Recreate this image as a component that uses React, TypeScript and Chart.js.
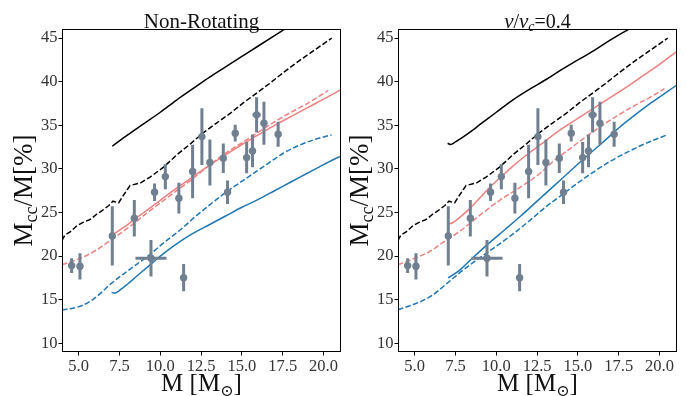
import { useEffect, useRef } from 'react';
import { Chart, registerables } from 'chart.js';

Chart.register(...registerables);

const FONT = '"Liberation Serif", "DejaVu Serif", serif';
const STAR = '#708090';
const RED = '#f08080';
const BLUE = '#1f77b4';

// Axis ticks
const massTicks = [5, 7.5, 10, 12.5, 15, 17.5, 20];
const coreTicks = [10, 15, 20, 25, 30, 35, 40, 45];

// Observed stars: mass, core fraction and their uncertainties
const starMass = [4.57, 5.08, 7.06, 8.41, 9.65, 9.43, 10.31, 11.14, 11.43, 11.98, 12.55, 13.04, 13.86, 14.12, 14.59, 15.29, 15.65, 15.9, 16.35, 17.22];
const starCore = [18.91, 18.83, 22.31, 24.34, 27.33, 19.75, 29.12, 26.64, 17.53, 29.7, 33.71, 30.73, 31.23, 27.33, 34.1, 31.3, 32.07, 36.2, 35.24, 33.98];
const starCoreErr = [0.85, 1.5, 3.4, 2.1, 1.0, 2.1, 1.45, 1.76, 1.56, 3.06, 3.25, 2.64, 1.7, 1.34, 0.96, 1.8, 1.87, 2.03, 2.47, 1.44];
const starMassErr = [0, 0, 0, 0, 0, 0.95, 0, 0, 0, 0, 0, 0, 0, 0, 0, 0, 0, 0.25, 0, 0];

// Black dashed track (same in both panels)
const blackDashMass = [3.98, 4.15, 4.5, 4.9, 5.3, 5.7, 6.1, 6.5, 6.85, 7.1, 7.45, 7.75, 8.15, 8.8, 9.4, 10.2, 11.0, 11.8, 12.6, 13.4, 14.3, 15.1, 15.9, 16.7, 17.5, 18.5, 19.5, 20.5];
const blackDashCore = [21.8, 22.4, 22.8, 23.5, 23.9, 24.2, 24.8, 25.3, 25.8, 26.3, 26.1, 27.0, 28.1, 28.4, 29.1, 30.2, 31.6, 32.8, 34.1, 35.2, 36.4, 37.6, 38.7, 39.8, 41.0, 42.4, 43.7, 45.0];

// Non-rotating models
const nrBlackMass = [7.06, 8, 9, 10, 11, 12, 13, 14, 15, 16, 17, 18, 19, 20.5];
const nrBlackCore = [32.6, 33.9, 35.2, 36.5, 37.9, 39.2, 40.5, 41.7, 42.9, 44.1, 45.3, 46.5, 47.7, 49.5];
const nrRedMass = [7.02, 8, 8.4, 9, 10, 11, 12, 13, 14, 15, 16, 17, 18, 19, 20, 21.07];
const nrRedCore = [22.4, 23.6, 24.2, 25.0, 26.4, 27.8, 29.1, 30.4, 31.6, 32.8, 33.9, 35.0, 36.0, 37.0, 38.0, 39.1];
const nrRedDashMass = [3.98, 5.29, 6, 7.02, 8, 9.37, 11, 12, 13, 14, 15, 16, 17, 18, 19, 20.29];
const nrRedDashCore = [19.0, 19.9, 20.6, 21.9, 23.2, 25.2, 27.5, 28.9, 30.4, 31.8, 33.0, 34.2, 35.4, 36.5, 37.5, 39.0];
const nrBlueMass = [7.02, 7.2, 7.6, 8, 8.5, 9, 9.5, 10, 11, 12, 13, 14, 15, 16, 17, 18, 19, 20, 21.07];
const nrBlueCore = [15.85, 15.75, 16.2, 16.8, 17.6, 18.4, 19.2, 20.0, 21.4, 22.6, 23.6, 24.6, 25.6, 26.5, 27.5, 28.5, 29.5, 30.5, 31.5];
const nrBlueDashMass = [3.98, 4.5, 5.29, 6, 7.02, 8, 9.37, 10, 11.41, 12, 13.45, 14, 15.49, 16.5, 17.53, 18.5, 19.5, 20.49];
const nrBlueDashCore = [13.83, 13.95, 14.4, 15.2, 16.9, 18.3, 20.2, 21.2, 23.3, 24.3, 26.5, 27.3, 29.2, 30.5, 31.8, 32.7, 33.4, 33.9];

// Rotating models (v/vc = 0.4)
const rotBlackMass = [7.02, 7.2, 7.5, 8, 8.6, 9, 10, 11, 12, 13, 14, 15, 16, 17, 18, 19, 20.5];
const rotBlackCore = [32.95, 32.8, 33.1, 33.7, 34.5, 35.1, 36.5, 37.9, 39.1, 40.2, 41.4, 42.5, 43.6, 44.8, 45.9, 47.0, 48.7];
const rotRedMass = [7.02, 7.3, 7.8, 8.4, 9, 9.6, 10.3, 11, 12, 13, 14, 15, 16, 17, 18, 19, 20, 21.07];
const rotRedCore = [23.7, 23.8, 24.5, 25.5, 26.7, 27.9, 29.1, 30.3, 31.8, 33.2, 34.6, 35.8, 37.0, 38.2, 39.4, 40.7, 42.0, 43.5];
const rotRedDashMass = [3.98, 5, 5.9, 6.6, 7.8, 9, 10.25, 11.47, 12.69, 13.5, 14.5, 15.5, 16.5, 17.5, 18.5, 19.5, 20.3];
const rotRedDashCore = [19.0, 19.75, 20.5, 21.4, 22.9, 24.7, 26.45, 27.9, 29.5, 30.9, 32.3, 33.7, 35.0, 36.2, 37.3, 38.3, 39.2];
const rotBlueMass = [7.05, 7.7, 8.5, 9.5, 10.5, 11.5, 12.5, 13.5, 14.5, 15.5, 16.5, 17.5, 18.5, 19.5, 20.5, 21.07];
const rotBlueCore = [17.5, 18.3, 19.7, 21.4, 23.0, 24.6, 26.3, 28.0, 29.7, 31.4, 33.0, 34.7, 36.2, 37.6, 38.9, 39.64];
const rotBlueDashMass = [3.98, 5, 6, 7, 7.9, 8.9, 9.9, 11, 12, 13, 14, 15, 16, 17, 18, 19, 20.45];
const rotBlueDashCore = [13.85, 14.5, 15.4, 16.9, 18.3, 19.7, 21.0, 22.5, 24.0, 25.6, 27.0, 28.4, 29.7, 30.9, 31.9, 32.8, 33.9];

type Run = { text: string; size: number; shift?: number; italic?: boolean };
type Curve = { mass: number[]; core: number[]; color: string; dashed?: boolean; straight?: boolean };

const zip = (xs: number[], ys: number[]) => xs.map((x, i) => ({ x, y: ys[i] }));

function runFont(r: Run) {
  return `${r.italic ? 'italic ' : ''}${r.size}px ${FONT}`;
}

// Draws a row of text runs (with subscripts) centred on cx at the given baseline
function drawRuns(ctx: CanvasRenderingContext2D, runs: Run[], cx: number, baseline: number) {
  const widths = runs.map((r) => {
    ctx.font = runFont(r);
    return ctx.measureText(r.text).width;
  });
  const total = widths.reduce((a, b) => a + b, 0);
  let x = cx - total / 2;
  ctx.textAlign = 'left';
  ctx.textBaseline = 'alphabetic';
  runs.forEach((r, i) => {
    ctx.font = runFont(r);
    ctx.fillText(r.text, x, baseline + (r.shift || 0));
    x += widths[i];
  });
}

const xLabelRuns: Run[] = [
  { text: 'M [M', size: 25 },
  { text: '⊙', size: 16, shift: 5 },
  { text: ']', size: 25 },
];
const yLabelRuns: Run[] = [
  { text: 'M', size: 27 },
  { text: 'cc', size: 18, shift: 5 },
  { text: '/M[%]', size: 27 },
];

// Error bars under the markers, plus frame, title and axis labels
function makeDecor(title: Run[]) {
  return {
    id: 'panelDecor',
    beforeDatasetDraw(chart: any, args: any) {
      if (args.index !== 0) return;
      const { ctx, chartArea: a, scales } = chart;
      const x = scales.x;
      const y = scales.y;
      ctx.save();
      ctx.beginPath();
      ctx.rect(a.left, a.top, a.right - a.left, a.bottom - a.top);
      ctx.clip();
      ctx.strokeStyle = STAR;
      ctx.lineWidth = 3;
      ctx.beginPath();
      starMass.forEach((m, i) => {
        const px = x.getPixelForValue(m);
        const c = starCore[i];
        const e = starCoreErr[i];
        ctx.moveTo(px, y.getPixelForValue(c - e));
        ctx.lineTo(px, y.getPixelForValue(c + e));
        const ex = starMassErr[i];
        if (ex > 0) {
          const py = y.getPixelForValue(c);
          ctx.moveTo(x.getPixelForValue(m - ex), py);
          ctx.lineTo(x.getPixelForValue(m + ex), py);
        }
      });
      ctx.stroke();
      ctx.restore();
    },
    afterDraw(chart: any) {
      const { ctx, chartArea: a } = chart;
      ctx.save();
      ctx.strokeStyle = '#000';
      ctx.lineWidth = 1;
      ctx.strokeRect(Math.round(a.left) + 0.5, Math.round(a.top) + 0.5, Math.round(a.right - a.left) - 1, Math.round(a.bottom - a.top) - 1);
      const cx = (a.left + a.right) / 2;
      ctx.fillStyle = '#111';
      drawRuns(ctx, title, cx, 28);
      drawRuns(ctx, xLabelRuns, cx, 391);
      ctx.translate(a.left - 30, (a.top + a.bottom) / 2);
      ctx.rotate(-Math.PI / 2);
      drawRuns(ctx, yLabelRuns, 0, 0);
      ctx.restore();
    },
  };
}

type PanelProps = { left: number; width: number; axisWidth: number; padRight: number; title: Run[]; curves: Curve[] };

function Panel({ left, width, axisWidth, padRight, title, curves }: PanelProps) {
  const ref = useRef<HTMLCanvasElement>(null);
  useEffect(() => {
    const lineSets = curves.map((c) => {
      const ds: any = {
        data: zip(c.mass, c.core),
        borderColor: c.color,
        borderWidth: 1.5,
        pointRadius: 0,
        fill: false,
        showLine: true,
        tension: 0,
      };
      if (c.dashed) ds.borderDash = [5.5, 2.4];
      if (!c.straight) ds.cubicInterpolationMode = 'monotone';
      return ds;
    });
    const chart = new Chart(ref.current as HTMLCanvasElement, {
      type: 'line',
      data: {
        datasets: [
          {
            data: zip(starMass, starCore),
            showLine: false,
            pointRadius: 3.7,
            pointBorderWidth: 0,
            pointBackgroundColor: STAR,
            borderColor: STAR,
          },
          ...lineSets,
        ],
      },
      plugins: [makeDecor(title)],
      options: {
        animation: false,
        responsive: false,
        devicePixelRatio: 1,
        layout: { padding: { top: 29, right: padRight, left: 0, bottom: 0 } },
        plugins: {
          legend: { display: false },
          tooltip: { enabled: false },
        },
        scales: {
          x: {
            type: 'linear',
            min: 3.98,
            max: 21.07,
            afterBuildTicks: (s: any) => {
              s.ticks = massTicks.map((v) => ({ value: v }));
            },
            afterFit: (s: any) => {
              s.height = 44;
            },
            ticks: {
              font: { family: FONT, size: 16.5 },
              color: '#333',
              padding: 1,
              maxRotation: 0,
              callback: (v: any) => Number(v).toFixed(1),
            },
            grid: { drawOnChartArea: false, drawTicks: true, tickLength: 3.5, color: '#000' },
            border: { display: false },
          },
          y: {
            type: 'linear',
            min: 9.0,
            max: 46.05,
            afterBuildTicks: (s: any) => {
              s.ticks = coreTicks.map((v) => ({ value: v }));
            },
            afterFit: (s: any) => {
              s.width = axisWidth;
            },
            ticks: {
              font: { family: FONT, size: 16.5 },
              color: '#333',
              padding: 1,
              callback: (v: any) => String(v),
            },
            grid: { drawOnChartArea: false, drawTicks: true, tickLength: 3.5, color: '#000' },
            border: { display: false },
          },
        },
      } as any,
    } as any);
    return () => chart.destroy();
  }, []);
  return (
    <div style={{ position: 'absolute', left, top: 0, width, height: 396 }}>
      <canvas ref={ref} width={width} height={396} style={{ display: 'block' }} />
    </div>
  );
}

const nonRotatingCurves: Curve[] = [
  { mass: nrBlackMass, core: nrBlackCore, color: '#000' },
  { mass: blackDashMass, core: blackDashCore, color: '#000', dashed: true, straight: true },
  { mass: nrRedMass, core: nrRedCore, color: RED },
  { mass: nrRedDashMass, core: nrRedDashCore, color: RED, dashed: true },
  { mass: nrBlueMass, core: nrBlueCore, color: BLUE },
  { mass: nrBlueDashMass, core: nrBlueDashCore, color: BLUE, dashed: true },
];

const rotatingCurves: Curve[] = [
  { mass: rotBlackMass, core: rotBlackCore, color: '#000' },
  { mass: blackDashMass, core: blackDashCore, color: '#000', dashed: true, straight: true },
  { mass: rotRedMass, core: rotRedCore, color: RED },
  { mass: rotRedDashMass, core: rotRedDashCore, color: RED, dashed: true },
  { mass: rotBlueMass, core: rotBlueCore, color: BLUE },
  { mass: rotBlueDashMass, core: rotBlueDashCore, color: BLUE, dashed: true },
];

const nonRotatingTitle: Run[] = [{ text: 'Non-Rotating', size: 21 }];
const rotatingTitle: Run[] = [
  { text: 'v', size: 21, italic: true },
  { text: '/', size: 20 },
  { text: 'v', size: 21, italic: true },
  { text: 'c', size: 14, italic: true, shift: 3 },
  { text: '=0.4', size: 20 },
];

export default function App() {
  return (
    <div style={{ position: 'absolute', left: 0, top: 0, width: 687, height: 396, background: '#fff', overflow: 'hidden' }}>
      <Panel left={0} width={345} axisWidth={62} padRight={4} title={nonRotatingTitle} curves={nonRotatingCurves} />
      <Panel left={345} width={342} axisWidth={53} padRight={10} title={rotatingTitle} curves={rotatingCurves} />
    </div>
  );
}
